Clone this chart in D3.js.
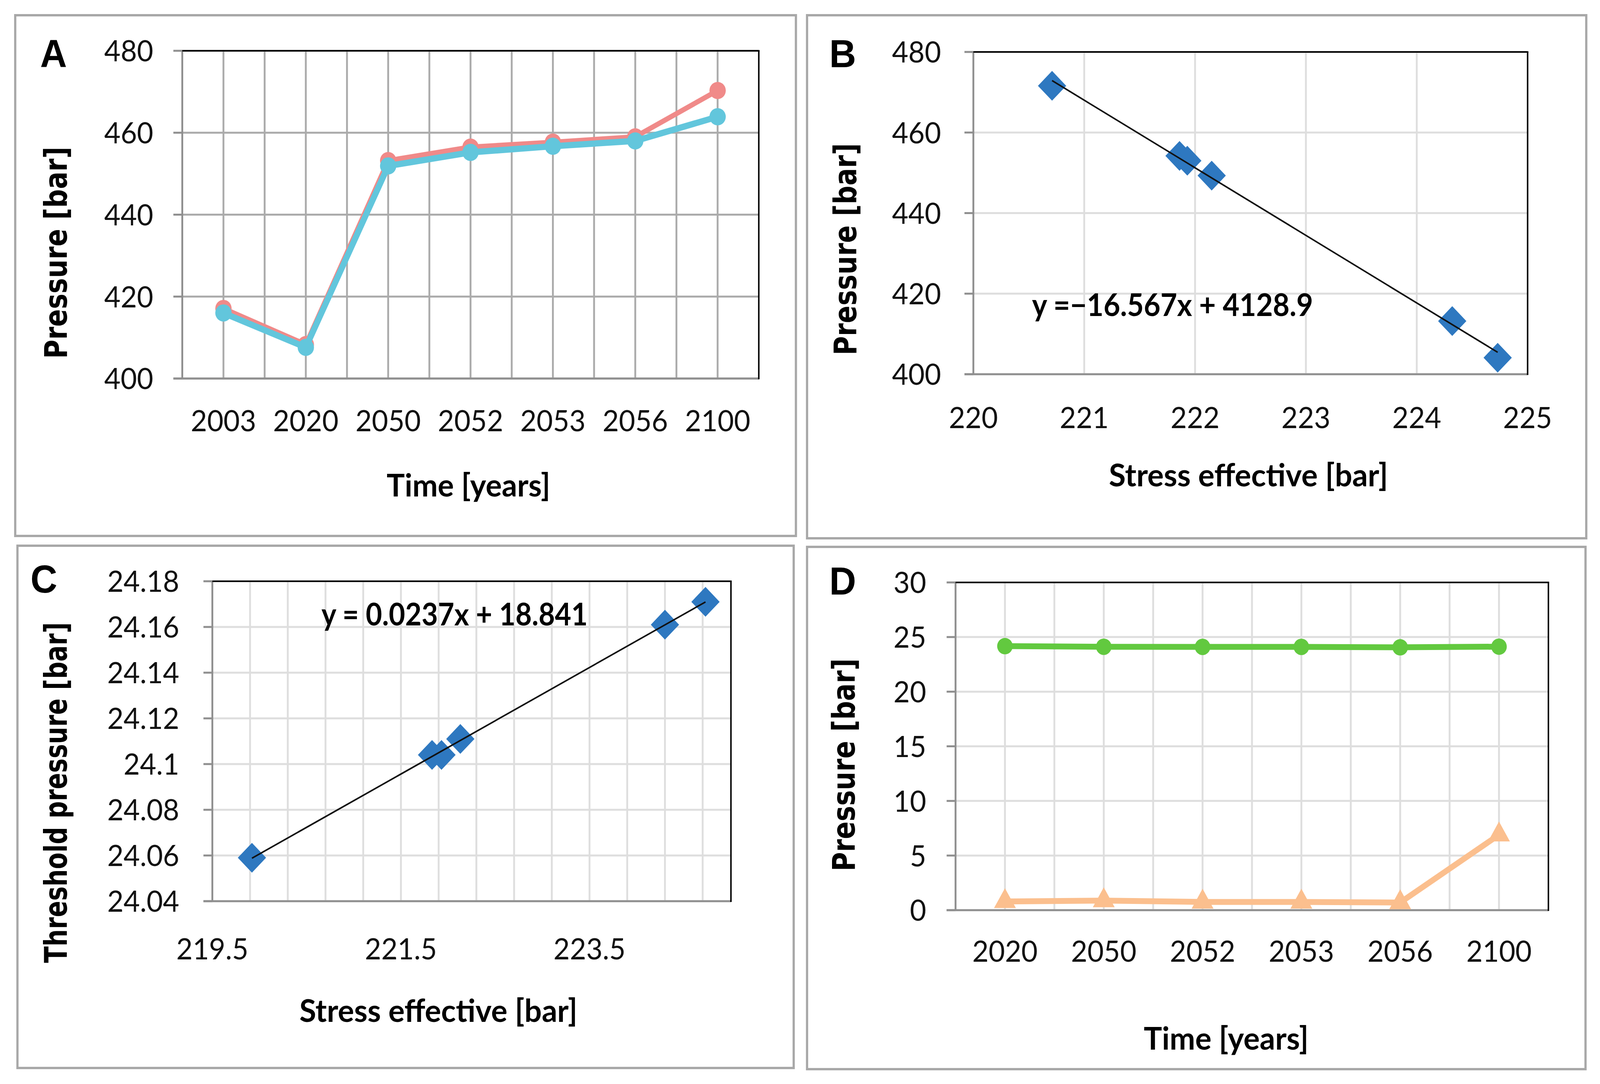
<!DOCTYPE html>
<html>
<head>
<meta charset="utf-8">
<script src="https://cdn.jsdelivr.net/npm/d3@7"></script>
<style>
  html, body { margin: 0; padding: 0; background: #fff; overflow: hidden; }
  svg { display: block; }
  .tick-label { font-family: Lato, "Open Sans", sans-serif; font-size: 76px; fill: #111; }
  .x-title { font-family: Lato, sans-serif; font-weight: bold; font-size: 80px; fill: #000; }
  .y-title { font-family: "DejaVu Sans", Verdana, sans-serif; font-weight: bold; font-size: 84px; fill: #000; }
  .panel-letter { font-family: "Liberation Sans", Arial, sans-serif; font-weight: bold; font-size: 100px; fill: #000; }
  .equation { font-family: Lato, sans-serif; font-weight: bold; font-size: 80px; fill: #000; }
</style>
</head>
<body>
<script>
(function(){

//panel A data
var yearsA = ["2003", "2020", "2050", "2052", "2053", "2056", "2100"];
var pressureA1 = [417.1, 408.3, 453.2, 456.5, 457.7, 459.0, 470.3]; //red series
var pressureA2 = [416.0, 407.6, 451.9, 455.2, 456.7, 458.0, 463.9]; //cyan series
var ticksA = [400, 420, 440, 460, 480];

//panel B data
var stressB = [220.71, 221.86, 221.93, 222.15, 224.32, 224.73];
var pressureB = [471.6, 454.2, 453.0, 449.3, 413.2, 404.1];
var xTicksB = [220, 221, 222, 223, 224, 225];
var yTicksB = [400, 420, 440, 460, 480];
var equationB = "y =\u221216.567x + 4128.9";

//panel C data
var stressC = [219.92, 221.83, 221.93, 222.13, 224.30, 224.73];
var thresholdC = [24.059, 24.104, 24.104, 24.111, 24.161, 24.171];
var xTicksC = [219.5, 221.5, 223.5];
var xTickLabelsC = ["219.5", "221.5", "223.5"];
var xGridC = [219.9, 220.3, 220.7, 221.1, 221.5, 221.9, 222.3, 222.7, 223.1, 223.5, 223.9, 224.3, 224.7];
var yTicksC = [24.04, 24.06, 24.08, 24.1, 24.12, 24.14, 24.16, 24.18];
var yTickLabelsC = ["24.04", "24.06", "24.08", "24.1", "24.12", "24.14", "24.16", "24.18"];
var equationC = "y = 0.0237x + 18.841";

//panel D data
var yearsD = ["2020", "2050", "2052", "2053", "2056", "2100"];
var thresholdD = [24.17, 24.11, 24.10, 24.10, 24.06, 24.12];  //green series
var overD = [0.8, 0.88, 0.75, 0.75, 0.7, 6.9];               //orange series
var ticksD = [0, 5, 10, 15, 20, 25, 30];

//colours
var red = "#f08a89", cyan = "#62c6dc", blue = "#2e78c0", green = "#62c93f", orange = "#fbbf8e";
var darkGrid = "#ababab", lightGrid = "#dedede", axisGray = "#8f8f8f", frameGray = "#a8a8a8";

//svg scales to the window so nothing gets cut at the edge
var svg = d3.select("body")
  .append("svg")
  .attr("viewBox", "0 0 4310 2775")
  .attr("preserveAspectRatio", "none")
  .style("width", "100vw")
  .style("height", "100vh");

svg.append("rect").attr("width", 4310).attr("height", 2775).attr("fill", "#fff");

//panel frames
var frames = [[41, 39, 2103, 1333], [2174, 39, 2099, 1339], [47, 1397, 2091, 1337], [2174, 1400, 2097, 1337]];
svg.selectAll(".frame")
  .data(frames)
  .enter()
  .append("rect")
  .attr("class", "frame")
  .attr("x", function(d){ return d[0]; })
  .attr("y", function(d){ return d[1]; })
  .attr("width", function(d){ return d[2]; })
  .attr("height", function(d){ return d[3]; })
  .attr("fill", "none")
  .attr("stroke", frameGray)
  .attr("stroke-width", 6);

//least squares fit, used for the trendlines
function fit(xs, ys){
  var mx = d3.mean(xs), my = d3.mean(ys);
  var num = d3.sum(xs, function(x, i){ return (x - mx) * (ys[i] - my); });
  var den = d3.sum(xs, function(x){ return (x - mx) * (x - mx); });
  var slope = num / den;
  return { slope: slope, intercept: my - slope * mx };
}

//draws horizontal grid, y ticks and y labels
function plotFrame(g, box, yScale, yTicks, yLabels, gridColor){
  g.selectAll(".hgrid")
    .data(yTicks)
    .enter()
    .append("line")
    .attr("x1", box.left)
    .attr("x2", box.right)
    .attr("y1", function(d){ return yScale(d); })
    .attr("y2", function(d){ return yScale(d); })
    .attr("stroke", gridColor)
    .attr("stroke-width", 5);

  //y tick marks
  g.selectAll(".ytick")
    .data(yTicks)
    .enter()
    .append("line")
    .attr("x1", box.left - 24)
    .attr("x2", box.left)
    .attr("y1", function(d){ return yScale(d); })
    .attr("y2", function(d){ return yScale(d); })
    .attr("stroke", axisGray)
    .attr("stroke-width", 5);

  g.selectAll(".ylab")
    .data(yTicks)
    .enter()
    .append("text")
    .attr("class", "tick-label")
    .attr("x", box.labelRight)
    .attr("y", function(d){ return yScale(d); })
    .attr("dy", "0.36em")
    .attr("text-anchor", "end")
    .text(function(d, i){ return yLabels ? yLabels[i] : d; });
}

function plotBorder(g, box){
  //left and bottom axis lines in gray, top and right in black
  g.append("line").attr("x1", box.left).attr("x2", box.left).attr("y1", box.top).attr("y2", box.bottom)
    .attr("stroke", axisGray).attr("stroke-width", 5);
  g.append("line").attr("x1", box.left - 24).attr("x2", box.right).attr("y1", box.bottom).attr("y2", box.bottom)
    .attr("stroke", axisGray).attr("stroke-width", 5);
  g.append("line").attr("x1", box.left).attr("x2", box.right + 2).attr("y1", box.top).attr("y2", box.top)
    .attr("stroke", "#000").attr("stroke-width", 4);
  g.append("line").attr("x1", box.right).attr("x2", box.right).attr("y1", box.top).attr("y2", box.bottom + 2)
    .attr("stroke", "#000").attr("stroke-width", 4);
}

function titles(g, t){
  g.append("text").attr("class", "panel-letter").attr("x", t.letter[0]).attr("y", t.letter[1]).text(t.name);
  g.append("text")
    .attr("class", "x-title")
    .attr("x", t.xTitle[0])
    .attr("y", t.xTitle[1])
    .attr("text-anchor", "middle")
    .attr("textLength", t.xTitle[2])
    .attr("lengthAdjust", "spacingAndGlyphs")
    .text(t.xText);
  g.append("text")
    .attr("class", "y-title")
    .attr("transform", "translate(" + t.yTitle[0] + "," + t.yTitle[1] + ") rotate(-90)")
    .attr("text-anchor", "middle")
    .attr("textLength", t.yTitle[2])
    .attr("lengthAdjust", "spacingAndGlyphs")
    .text(t.yText);
}

//category panel (A and D): vertical grid at centres and band edges
function categoryGrid(g, box, xBand, cats, gridColor, labelY){
  var lines = [];
  cats.forEach(function(c, i){
    if (i > 0) lines.push(xBand(c));
    lines.push(xBand(c) + xBand.bandwidth() / 2);
  });
  g.selectAll(".vgrid")
    .data(lines)
    .enter()
    .append("line")
    .attr("x1", function(d){ return d; })
    .attr("x2", function(d){ return d; })
    .attr("y1", box.top)
    .attr("y2", box.bottom)
    .attr("stroke", gridColor)
    .attr("stroke-width", 5);

  g.selectAll(".xlab")
    .data(cats)
    .enter()
    .append("text")
    .attr("class", "tick-label")
    .attr("x", function(d){ return xBand(d) + xBand.bandwidth() / 2; })
    .attr("y", labelY)
    .attr("text-anchor", "middle")
    .text(function(d){ return d; });
}

function drawSeries(g, cats, xBand, yScale, values, color, width){
  var line = d3.line()
    .x(function(d, i){ return xBand(cats[i]) + xBand.bandwidth() / 2; })
    .y(function(d){ return yScale(d); });
  g.append("path")
    .datum(values)
    .attr("d", line)
    .attr("fill", "none")
    .attr("stroke", color)
    .attr("stroke-width", width)
    .attr("stroke-linejoin", "round");
}

//---------------- panel A ----------------
function panelA(){
  var g = svg.append("g");
  var box = { left: 491, right: 2044, top: 130, bottom: 969, labelRight: 413 };
  var x = d3.scaleBand().domain(yearsA).range([box.left, box.right]);
  var y = d3.scaleLinear().domain([400, 480]).range([box.bottom, box.top]);

  plotFrame(g, box, y, ticksA, null, darkGrid);
  categoryGrid(g, box, x, yearsA, darkGrid, 1104);
  plotBorder(g, box);

  [[pressureA1, red, 13], [pressureA2, cyan, 16]].forEach(function(s){
    drawSeries(g, yearsA, x, y, s[0], s[1], s[2]);
    g.selectAll(null)
      .data(s[0])
      .enter()
      .append("circle")
      .attr("cx", function(d, i){ return x(yearsA[i]) + x.bandwidth() / 2; })
      .attr("cy", function(d){ return y(d); })
      .attr("r", 22)
      .attr("fill", s[1]);
  });

  titles(g, { name: "A", letter: [108, 172], xText: "Time [years]", xTitle: [1262, 1271, 441],
    yText: "Pressure [bar]", yTitle: [180, 647, 543] });
}

//---------------- scatter panels (B and C) ----------------
function scatterPanel(opt){
  var g = svg.append("g");
  var box = opt.box;
  var x = d3.scaleLinear().domain(opt.xDomain).range([box.left, box.right]);
  var y = d3.scaleLinear().domain(opt.yDomain).range([box.bottom, box.top]);

  plotFrame(g, box, y, opt.yTicks, opt.yLabels, lightGrid);

  g.selectAll(".vgrid")
    .data(opt.xGrid)
    .enter()
    .append("line")
    .attr("x1", function(d){ return x(d); })
    .attr("x2", function(d){ return x(d); })
    .attr("y1", box.top)
    .attr("y2", box.bottom)
    .attr("stroke", lightGrid)
    .attr("stroke-width", 5);

  g.selectAll(".xlab")
    .data(opt.xTicks)
    .enter()
    .append("text")
    .attr("class", "tick-label")
    .attr("x", function(d){ return x(d); })
    .attr("y", opt.xLabelY)
    .attr("text-anchor", "middle")
    .text(function(d, i){ return opt.xLabels ? opt.xLabels[i] : d; });

  plotBorder(g, box);

  //diamonds
  g.selectAll(".pt")
    .data(opt.xs)
    .enter()
    .append("path")
    .attr("d", d3.symbol().type(d3.symbolSquare).size(2900))
    .attr("transform", function(d, i){
      return "translate(" + x(d) + "," + y(opt.ys[i]) + ") rotate(45)";
    })
    .attr("fill", blue);

  //linear trendline
  var f = fit(opt.xs, opt.ys);
  var x0 = d3.min(opt.xs), x1 = d3.max(opt.xs);
  g.append("line")
    .attr("x1", x(x0))
    .attr("y1", y(f.slope * x0 + f.intercept))
    .attr("x2", x(x1))
    .attr("y2", y(f.slope * x1 + f.intercept))
    .attr("stroke", "#111")
    .attr("stroke-width", 4);

  g.append("text")
    .attr("class", "equation")
    .attr("x", opt.eq[0])
    .attr("y", opt.eq[1])
    .attr("textLength", opt.eq[2])
    .attr("lengthAdjust", "spacingAndGlyphs")
    .text(opt.eqText);

  titles(g, opt.titles);
}

//---------------- panel D ----------------
function panelD(){
  var g = svg.append("g");
  var box = { left: 2574, right: 4171, top: 1491, bottom: 2330, labelRight: 2495 };
  var x = d3.scaleBand().domain(yearsD).range([box.left, box.right]);
  var y = d3.scaleLinear().domain([0, 30]).range([box.bottom, box.top]);

  plotFrame(g, box, y, ticksD, null, lightGrid);
  categoryGrid(g, box, x, yearsD, lightGrid, 2462);
  plotBorder(g, box);

  drawSeries(g, yearsD, x, y, thresholdD, green, 15);
  g.selectAll(null)
    .data(thresholdD)
    .enter()
    .append("circle")
    .attr("cx", function(d, i){ return x(yearsD[i]) + x.bandwidth() / 2; })
    .attr("cy", function(d){ return y(d); })
    .attr("r", 21)
    .attr("fill", green);

  drawSeries(g, yearsD, x, y, overD, orange, 15);
  g.selectAll(null)
    .data(overD)
    .enter()
    .append("path")
    .attr("d", d3.symbol().type(d3.symbolTriangle).size(1500))
    .attr("transform", function(d, i){
      return "translate(" + (x(yearsD[i]) + x.bandwidth() / 2) + "," + y(d) + ")";
    })
    .attr("fill", orange);

  titles(g, { name: "D", letter: [2234, 1522], xText: "Time [years]", xTitle: [3303, 2687, 444],
    yText: "Pressure [bar]", yTitle: [2302, 1958, 545] });
}

panelA();

scatterPanel({
  box: { left: 2622, right: 4115, top: 133, bottom: 958, labelRight: 2535 },
  xDomain: [220, 225], yDomain: [400, 480],
  xTicks: xTicksB, xLabels: null, xGrid: [221, 222, 223, 224], xLabelY: 1096,
  yTicks: yTicksB, yLabels: null,
  xs: stressB, ys: pressureB,
  eq: [2780, 809, 757], eqText: equationB,
  titles: { name: "B", letter: [2234, 172], xText: "Stress effective [bar]", xTitle: [3363, 1245, 752],
    yText: "Pressure [bar]", yTitle: [2306, 638, 543] }
});

scatterPanel({
  box: { left: 572, right: 1969, top: 1488, bottom: 2307, labelRight: 483 },
  xDomain: [219.5, 225], yDomain: [24.04, 24.18],
  xTicks: xTicksC, xLabels: xTickLabelsC, xGrid: xGridC, xLabelY: 2456,
  yTicks: yTicksC, yLabels: yTickLabelsC,
  xs: stressC, ys: thresholdC,
  eq: [866, 1601, 717], eqText: equationC,
  titles: { name: "C", letter: [82, 1517], xText: "Stress effective [bar]", xTitle: [1181, 2616, 749],
    yText: "Threshold pressure [bar]", yTitle: [180, 2029, 872] }
});

panelD();

})();
</script>
</body>
</html>
